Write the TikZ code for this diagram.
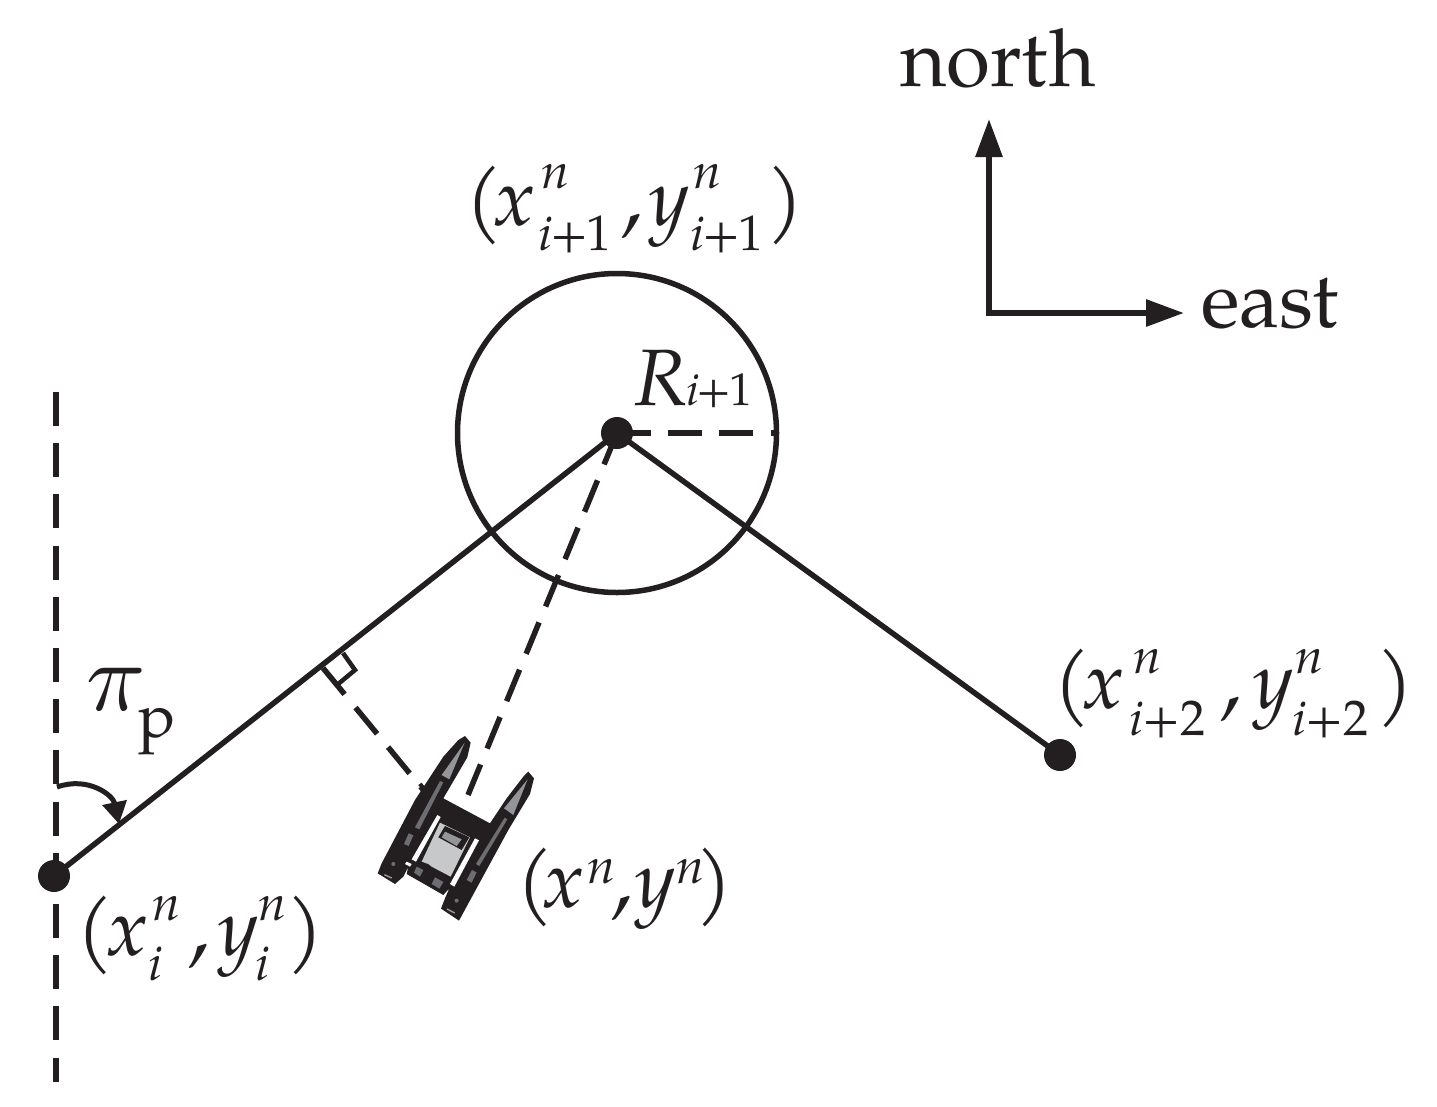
\documentclass[tikz,border=0pt]{standalone}
\usepackage{fontspec}
\setmainfont{TeX Gyre Pagella}
\usetikzlibrary{arrows.meta}
\definecolor{ink}{HTML}{231F20}
\definecolor{cone}{HTML}{939598}
\definecolor{strip}{HTML}{6D6E71}
\definecolor{deck}{HTML}{C7C8CA}
\newcommand{\gl}[3]{\rlap{\kern#1pt\raise#2pt\hbox{#3}}}
\newcommand{\scr}[1]{\fontsize{50}{50}\selectfont #1}
\newcommand{\nn}{\scr{\itshape n}}
\newcommand{\cm}{\fontsize{92}{92}\selectfont\itshape ,}
\newcommand{\sone}{\scr{\itshape i\upshape\kern-1.5pt+\kern-1.5pt1}}
\newcommand{\stwo}{\scr{\itshape i\upshape+2}}
\newcommand{\si}{\scr{\itshape i}}
\tikzset{
  lab/.style={inner sep=0pt,outer sep=0pt,anchor=base west,text=ink,font=\fontsize{80}{80}\selectfont},
  wp/.style={circle,fill=ink,inner sep=0pt,minimum size=32pt},
  ln/.style={draw=ink,line width=5.5pt},
  dsh/.style={draw=ink,line width=5.5pt,dash pattern=on 34pt off 17.2pt},
  ax/.style={draw=ink,line width=6pt,-{Triangle[length=38pt,width=26pt]}},
  blk/.style={fill=ink,draw=none},
  wht/.style={fill=white,draw=none},
  gra/.style={fill=cone,draw=none},
  lgt/.style={fill=deck,draw=none},
  drk/.style={fill=strip,draw=none}
}
\begin{document}
\begin{tikzpicture}[x=1pt,y=-1pt]
\useasboundingbox (0,0) rectangle (1437,1106);
\coordinate (vtop) at (56,392);
\coordinate (vbot) at (56,1082);
\node[wp] (A) at (54,876) {};
\node[wp] (B) at (617,433) {};
\node[wp] (C) at (1060,755) {};
\coordinate (E) at (777,433);
\coordinate (foot) at (323,668);
\coordinate (boatL) at (425,792);
\coordinate (boatF) at (468,795);
\coordinate (O) at (989,313);
\coordinate (Nt) at (989,119);
\coordinate (Et) at (1184,313);
\coordinate (arcs) at (57,787);
\coordinate (arce) at (119,824);
\draw[dsh] (vtop) -- (vbot);
\draw[ln] (617,433) circle[radius=159.5];
\draw[dsh] (B.center) -- (E);
\draw[dsh] (B.center) -- (boatF);
\draw[dsh] (foot) -- (boatL);
\draw[ln] (A.center) -- (B.center) -- (C.center);
\draw[draw=ink,line width=4.5pt,line join=miter] (343,653) -- (355,670) -- (337,685);
\draw[ax] (O) -- (Nt);
\draw[ax,line cap=rect] (O) -- (Et);
\draw[draw=ink,line width=5pt,-{Triangle[length=22pt,width=24pt]}] (arcs) .. controls (88,776) and (113,795) .. (arce);
% boat
\begin{scope}[shift={(360,720)},x=0.3333pt,y=-0.3333pt]
\path[blk] (315,48) -- (332,68) -- (322,112) -- (250,235) -- (390,310) -- (440,235) -- (490,170) -- (505,155) -- (522,175) -- (510,222) -- (445,330) -- (297,602) -- (243,566) -- (255,535) -- (268,505) -- (250,525) -- (140,462) -- (145,440) -- (130,470) -- (105,492) -- (53,460) -- (65,430) -- (165,240) -- (250,110) -- (295,60) -- cycle;
\path[blk] (175,195) -- (185,188) -- (205,215) -- (195,222) -- cycle;
\path[gra] (314,68) -- (245,165) -- (268,178) -- cycle;
\path[gra] (503,178) -- (432,265) -- (460,285) -- cycle;
\path[drk] (240,183) -- (250,187) -- (178,328) -- (165,322) -- cycle;
\path[drk] (434,293) -- (442,298) -- (358,438) -- (348,432) -- cycle;
\path[drk] (146,340) -- (160,346) -- (146,378) -- (132,372) -- cycle;
\path[drk] (336,450) -- (350,457) -- (335,488) -- (320,480) -- cycle;
\path[wht] (232,285) -- (242,291) -- (168,425) -- (155,418) -- cycle;
\path[wht] (345,355) -- (357,361) -- (283,500) -- (270,492) -- cycle;
\path[wht] (140,425) -- (155,432) -- (150,440) -- (135,432) -- cycle;
\path[lgt] (240,308) -- (330,352) -- (272,470) -- (215,440) -- (205,432) -- (185,425) -- cycle;
\path[blk] (255,318) -- (328,352) -- (305,390) -- (235,352) -- cycle;
\path[gra] (255,335) -- (305,358) -- (290,378) -- (245,352) -- cycle;
\path[drk] (170,440) -- (190,450) -- (180,470) -- (162,458) -- cycle;
\path[drk] (225,472) -- (250,486) -- (238,506) -- (215,492) -- cycle;
\path[gra] (74,462) -- (96,472) -- (94,476) -- (72,466) -- cycle;
\path[gra] (262,565) -- (285,577) -- (283,581) -- (260,569) -- cycle;
\path[drk] (100,432) circle[radius=6];
\path[drk] (290,542) circle[radius=6];
\end{scope}
% labels
\node[lab] (lN) at (900,86) {north};
\node[lab] (lE) at (1201,327) {east};
\node[lab] (l1) at (460,225) {\gl{5}{0}{(}\gl{34}{0}{\itshape x}\gl{81}{37}{\nn}\gl{78}{-25}{\sone}\gl{161}{0}{\cm}\gl{189}{0}{\itshape y}\gl{233}{37}{\nn}\gl{230}{-25}{\sone}\gl{307}{0}{)}\kern335pt};
\node[lab] (lR) at (634,405) {\itshape R};
\node[lab,font=\fontsize{46}{46}\selectfont] (lRs) at (686,405) {\itshape i\upshape\kern-2pt+\kern-2pt1};
\node[lab] (l2) at (1049,708) {\gl{4}{0}{(}\gl{34}{0}{\itshape x}\gl{84}{35}{\nn}\gl{80}{-27}{\stwo}\gl{171}{0}{\cm}\gl{204}{0}{\itshape y}\gl{246}{35}{\nn}\gl{243}{-27}{\stwo}\gl{328}{0}{)}\kern358pt};
\node[lab] (l3) at (72,955) {\gl{4}{0}{(}\gl{35}{0}{\itshape x}\gl{80}{35}{\nn}\gl{76}{-25}{\si}\gl{116}{0}{\cm}\gl{146}{0}{\itshape y}\gl{186}{35}{\nn}\gl{183}{-25}{\si}\gl{215}{0}{)}\kern243pt};
\node[lab] (l4) at (512,907) {\gl{4}{0}{(}\gl{31}{0}{\itshape x}\gl{75}{24}{\nn}\gl{99}{0}{\cm}\gl{123}{0}{\itshape y}\gl{164}{24}{\nn}\gl{184}{0}{)}\kern212pt};
\node[lab,font=\normalsize,scale=9.8] (lp) at (86,710) {$\pi$};
\node[lab,font=\fontsize{62}{62}\selectfont] (lps) at (138,737) {p};
\end{tikzpicture}
\end{document}
